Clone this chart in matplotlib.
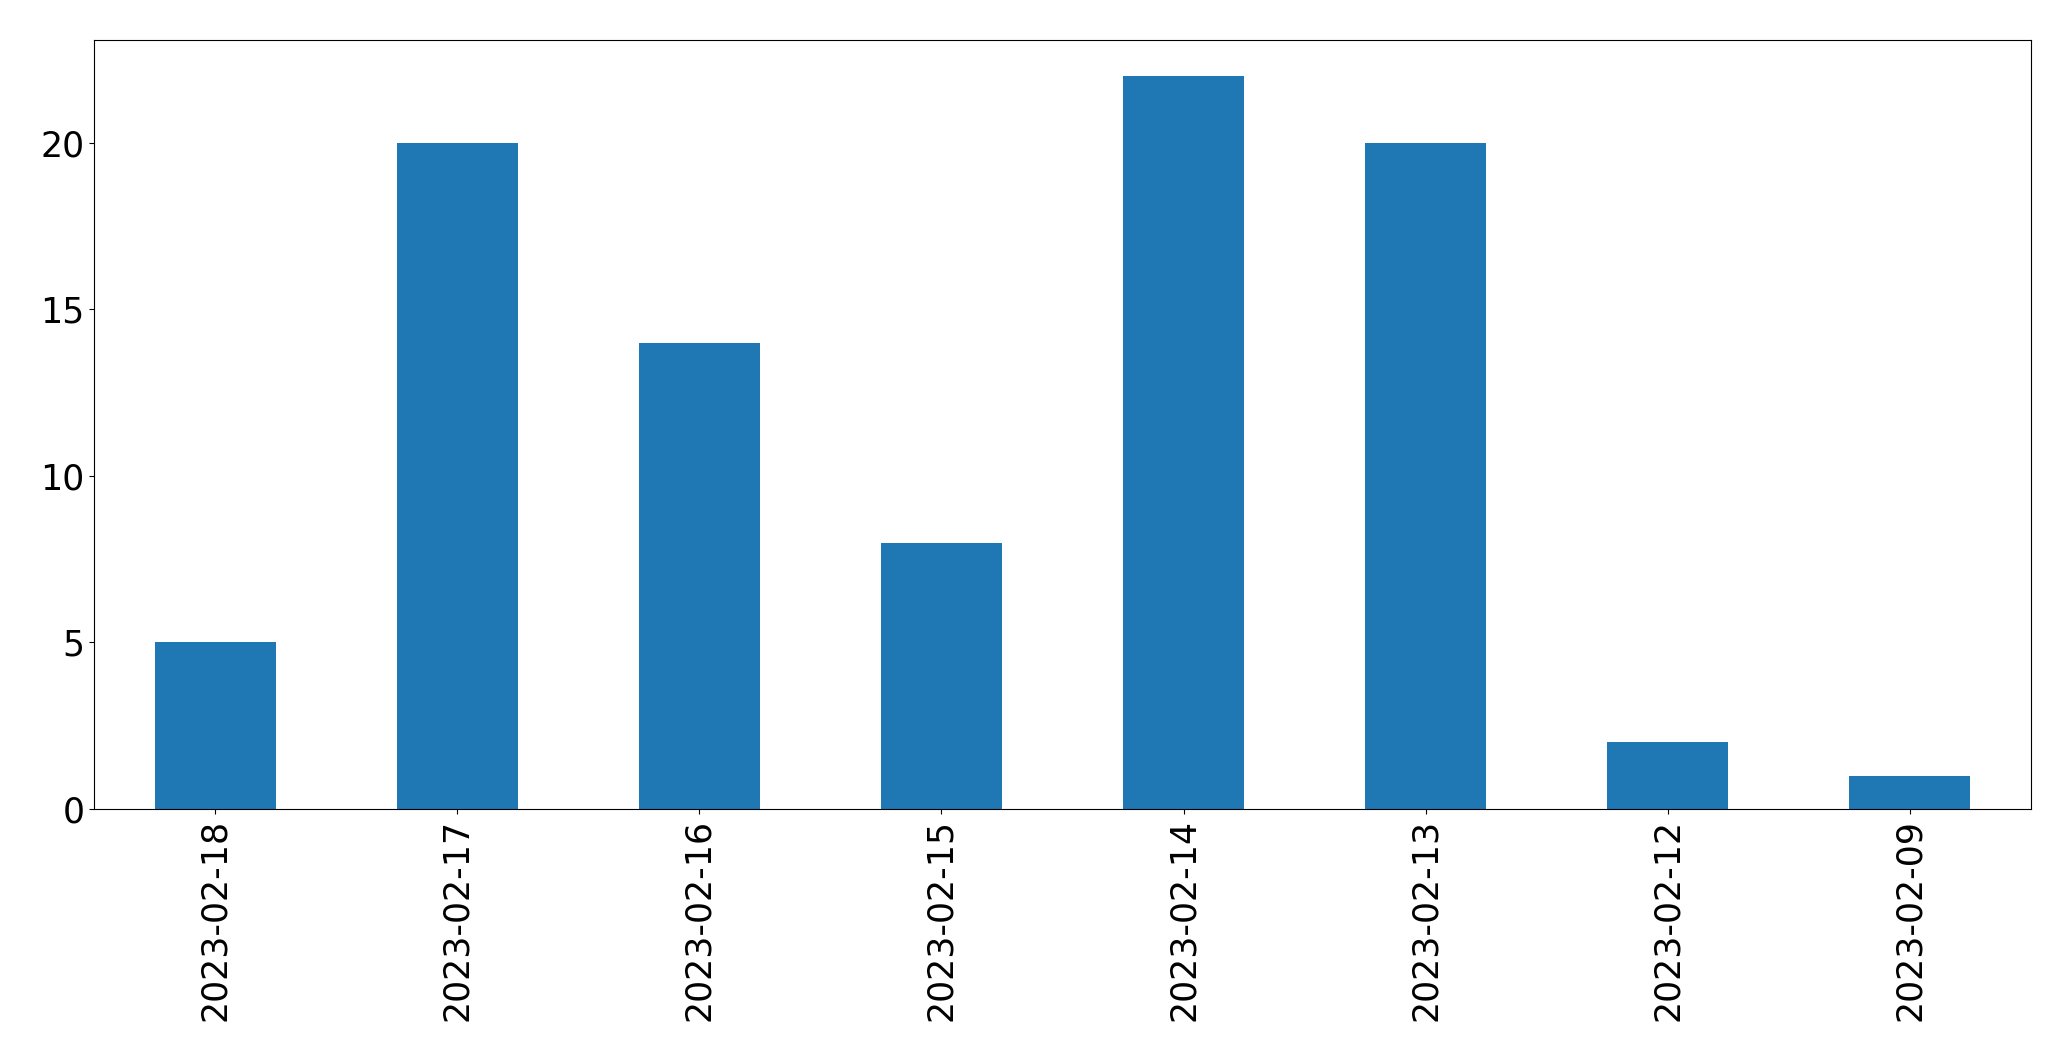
import matplotlib
matplotlib.use("Agg")
import matplotlib.pyplot as plt
import pandas as pd

dates = ["2023-02-18", "2023-02-17", "2023-02-16", "2023-02-15",
         "2023-02-14", "2023-02-13", "2023-02-12", "2023-02-09"]
counts = [5, 20, 14, 8, 22, 20, 2, 1]

W, H = 2071, 1061
fig = plt.figure(figsize=(W / 100, H / 100), dpi=100)
ax = fig.add_axes([94 / W, (H - 809) / H, (2031 - 94) / W, (809 - 39.5) / H])

s = pd.Series(counts, index=dates)
s.plot(kind="bar", ax=ax, color="#1f77b4", width=0.5)
ax.tick_params(axis="both", labelsize=25)
ax.set_yticks([0, 5, 10, 15, 20])

fig.savefig("out.png", dpi=100)
